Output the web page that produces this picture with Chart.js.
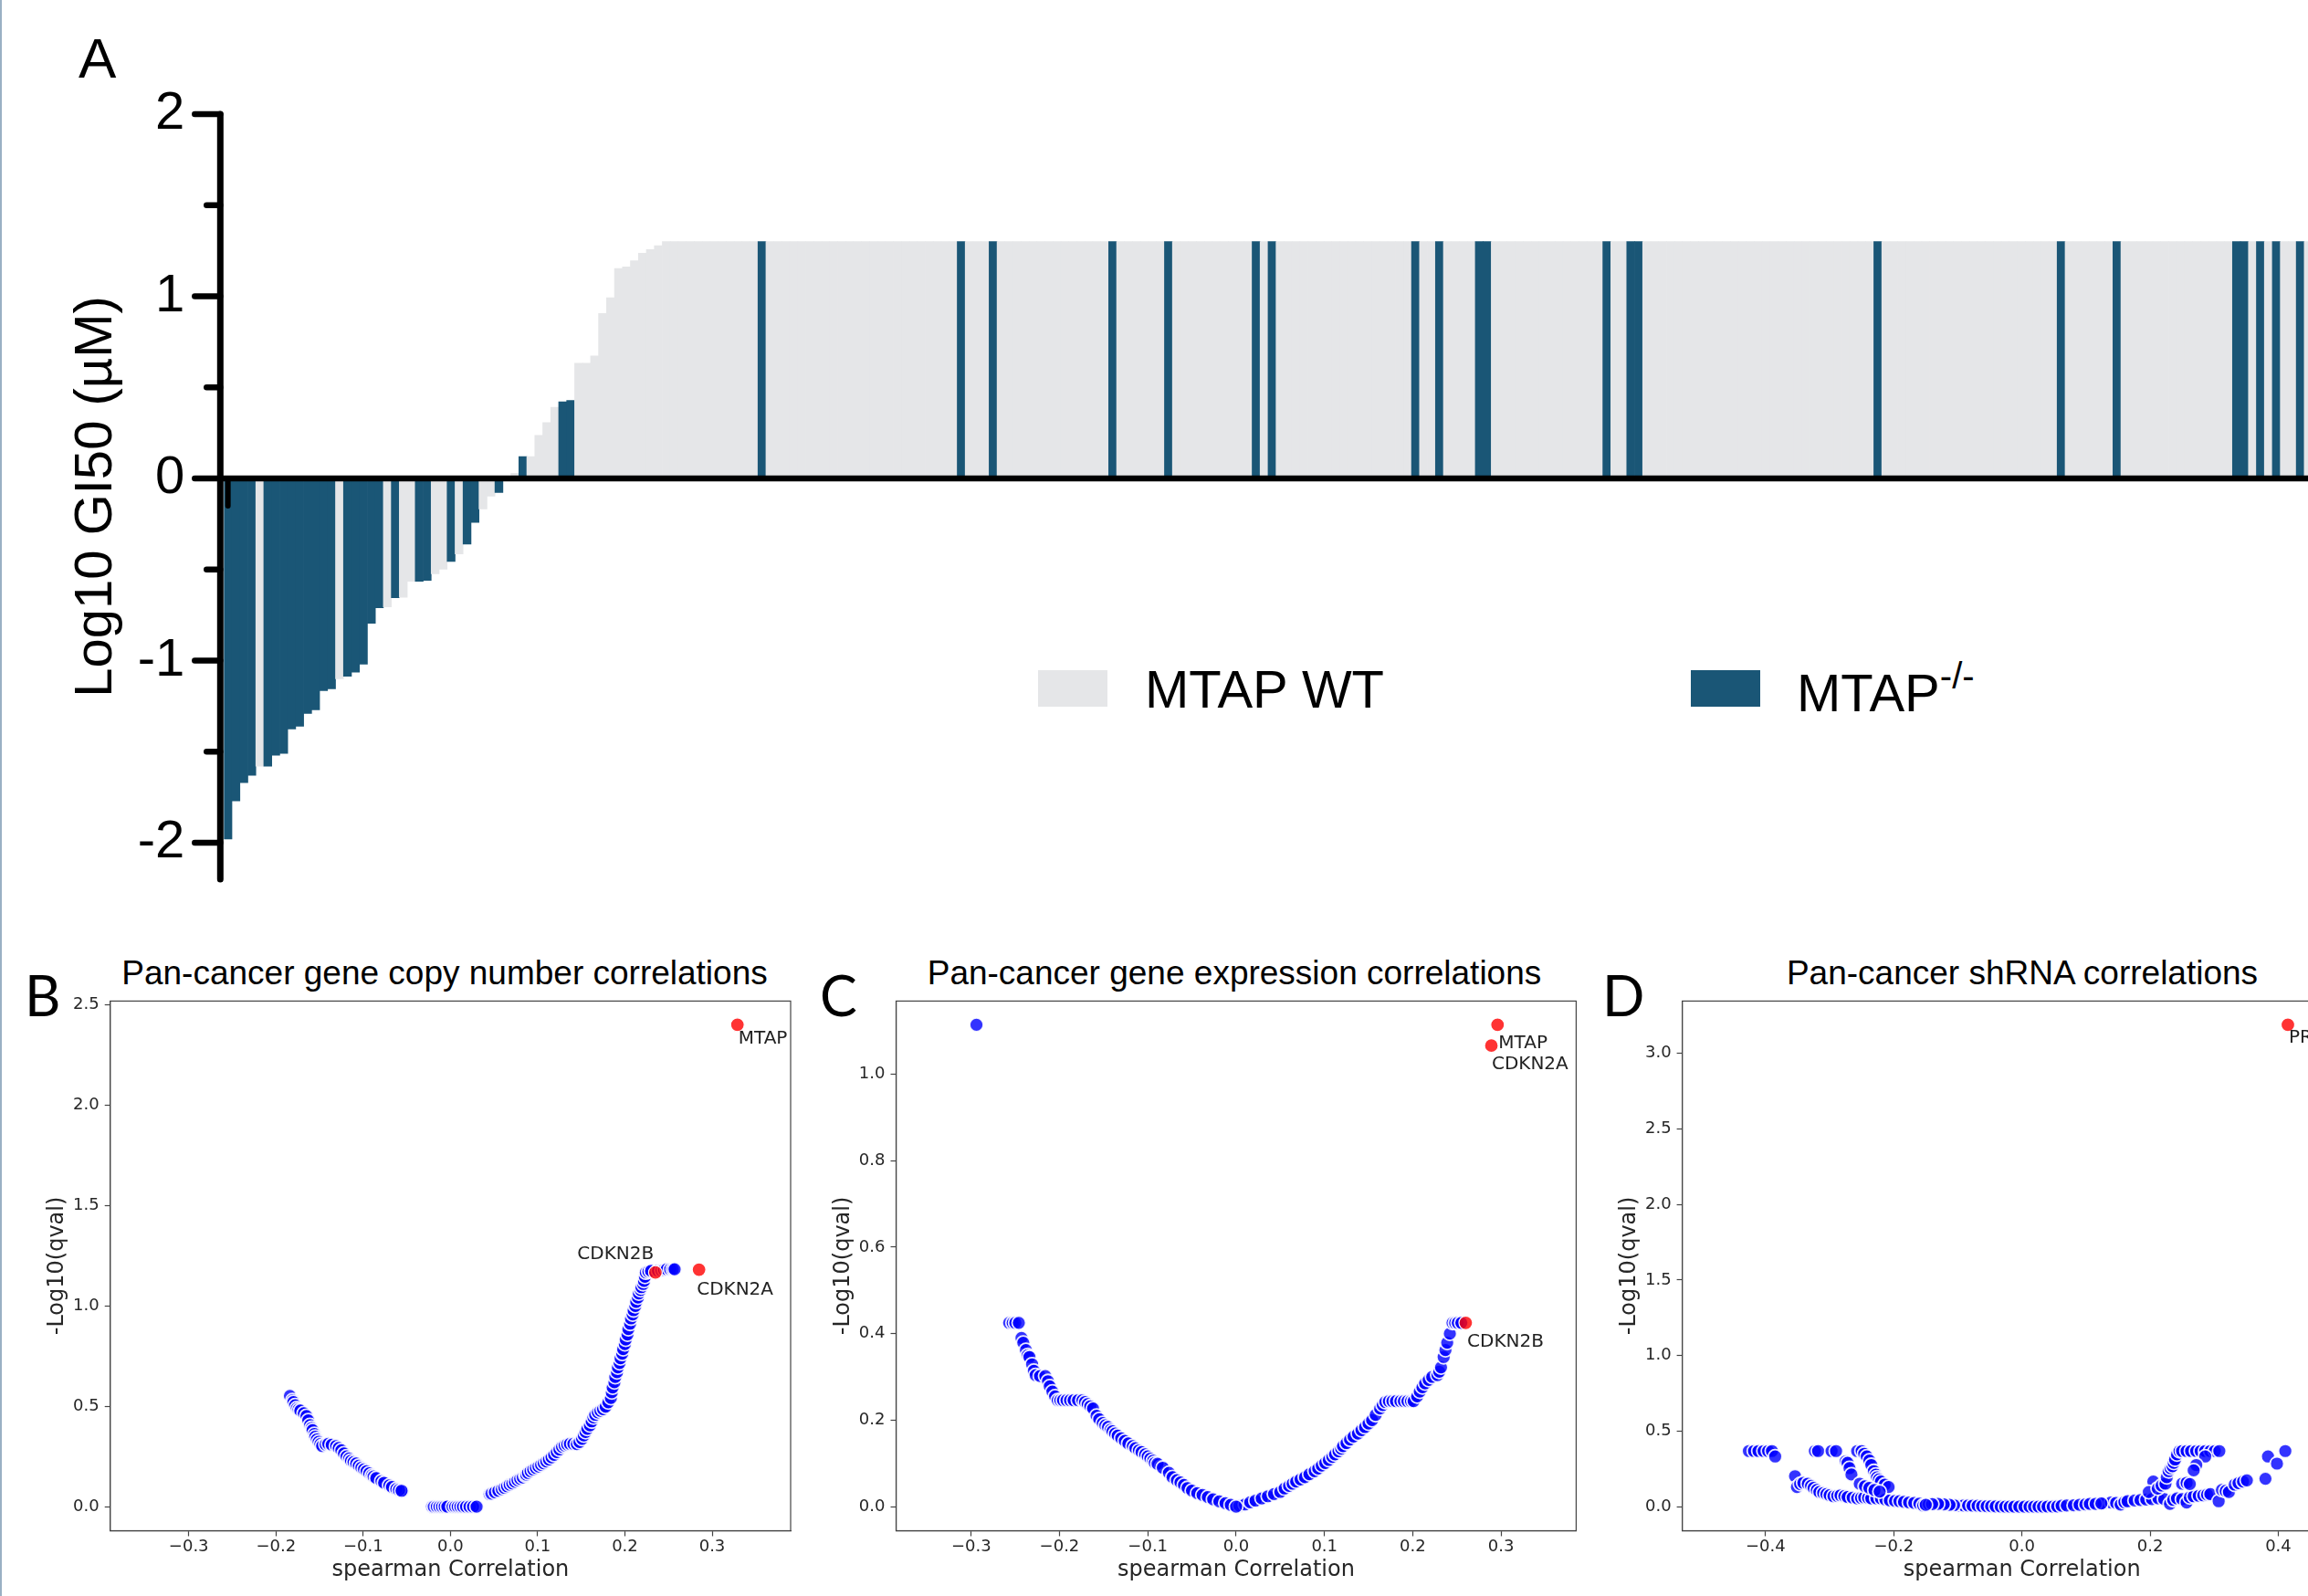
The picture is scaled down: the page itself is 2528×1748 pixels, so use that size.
<!DOCTYPE html>
<html>
<head>
<meta charset="utf-8">
<script src="https://cdn.jsdelivr.net/npm/chart.js"></script>
<style>
  html, body { margin: 0; padding: 0; background: #fff; overflow: hidden; }
  body { width: 2528px; height: 1748px; position: relative; }
  canvas { position: absolute; }
  .txt { position: absolute; white-space: nowrap; line-height: 1; color: #000; }
  .sans { font-family: 'Liberation Sans', Arial, sans-serif; }
  .letter { font-family: 'Lato', sans-serif; font-size: 61px; }
  .ptitle { font-family: 'Liberation Sans', Arial, sans-serif; font-size: 37px; width: 1000px; text-align: center; }
  .swatch { position: absolute; width: 76px; height: 40px; }
  #edge { position: absolute; left: 0; top: 0; width: 2px; height: 1748px; background: #9ab0c4; }
</style>
</head>
<body>
<div id="edge"></div>

<div class="txt sans" style="left:86px; top:33px; font-size:62px;">A</div>

<!-- legend of panel A -->
<div class="swatch" style="left:1137px; top:734px; background:#e5e6e8;"></div>
<div class="txt sans" style="left:1254px; top:726px; font-size:58px;">MTAP WT</div>
<div class="swatch" style="left:1852px; top:734px; background:#1a5676;"></div>
<div class="txt sans" style="left:1968px; top:730px; font-size:58px;">MTAP<span style="font-size:40px; vertical-align:25px; line-height:0;">-/-</span></div>

<canvas id="gi50Chart" width="2540" height="1000" style="left:0; top:0;"></canvas>

<div class="txt letter" style="left:27px; top:1059px;">B</div>
<div class="txt letter" style="left:898px; top:1059px;">C</div>
<div class="txt letter" style="left:1755px; top:1059px;">D</div>

<div class="txt ptitle" style="left:-13px; top:1047px;">Pan-cancer gene copy number correlations</div>
<div class="txt ptitle" style="left:852px; top:1047px;">Pan-cancer gene expression correlations</div>
<div class="txt ptitle" style="left:1715px; top:1047px;">Pan-cancer shRNA correlations</div>

<canvas id="copyChart" width="880" height="718" style="left:0; top:1030px;"></canvas>
<canvas id="exprChart" width="860" height="718" style="left:880px; top:1030px;"></canvas>
<canvas id="shrnaChart" width="880" height="718" style="left:1720px; top:1030px;"></canvas>

<script>
// ---- panel A : log10 GI50 per cell line, sorted ----
const gi50 = [
  -1.98, -1.77, -1.67, -1.63, -1.58, -1.58, -1.52, -1.51, -1.375, -1.36,
  -1.29, -1.27, -1.165, -1.155, -1.10, -1.086, -1.063, -1.02, -0.795, -0.71,
  -0.705, -0.655, -0.652, -0.565, -0.565, -0.56, -0.523, -0.498, -0.456, -0.414,
  -0.361, -0.241, -0.167, -0.097, -0.077, -0.01, 0.028, 0.12, 0.12, 0.237,
  0.307, 0.391, 0.421, 0.428, 0.632, 0.632, 0.672, 0.906, 0.992, 1.153,
  1.161, 1.195, 1.237, 1.257, 1.278,
  1.3, 1.3, 1.3, 1.3, 1.3, 1.3, 1.3, 1.3, 1.3, 1.3, 1.3, 1.3, 1.3, 1.3, 1.3,
  1.3, 1.3, 1.3, 1.3, 1.3, 1.3, 1.3, 1.3, 1.3, 1.3, 1.3, 1.3, 1.3, 1.3, 1.3,
  1.3, 1.3, 1.3, 1.3, 1.3, 1.3, 1.3, 1.3, 1.3, 1.3, 1.3, 1.3, 1.3, 1.3, 1.3,
  1.3, 1.3, 1.3, 1.3, 1.3, 1.3, 1.3, 1.3, 1.3, 1.3, 1.3, 1.3, 1.3, 1.3, 1.3,
  1.3, 1.3, 1.3, 1.3, 1.3, 1.3, 1.3, 1.3, 1.3, 1.3, 1.3, 1.3, 1.3, 1.3, 1.3,
  1.3, 1.3, 1.3, 1.3, 1.3, 1.3, 1.3, 1.3, 1.3, 1.3, 1.3, 1.3, 1.3, 1.3, 1.3,
  1.3, 1.3, 1.3, 1.3, 1.3, 1.3, 1.3, 1.3, 1.3, 1.3, 1.3, 1.3, 1.3, 1.3, 1.3,
  1.3, 1.3, 1.3, 1.3, 1.3, 1.3, 1.3, 1.3, 1.3, 1.3, 1.3, 1.3, 1.3, 1.3, 1.3,
  1.3, 1.3, 1.3, 1.3, 1.3, 1.3, 1.3, 1.3, 1.3, 1.3, 1.3, 1.3, 1.3, 1.3, 1.3,
  1.3, 1.3, 1.3, 1.3, 1.3, 1.3, 1.3, 1.3, 1.3, 1.3, 1.3, 1.3, 1.3, 1.3, 1.3,
  1.3, 1.3, 1.3, 1.3, 1.3, 1.3, 1.3, 1.3, 1.3, 1.3, 1.3, 1.3, 1.3, 1.3, 1.3,
  1.3, 1.3, 1.3, 1.3, 1.3, 1.3, 1.3, 1.3, 1.3, 1.3, 1.3, 1.3, 1.3, 1.3, 1.3,
  1.3, 1.3, 1.3, 1.3, 1.3, 1.3, 1.3, 1.3, 1.3, 1.3, 1.3, 1.3, 1.3, 1.3, 1.3,
  1.3, 1.3, 1.3, 1.3, 1.3, 1.3, 1.3, 1.3, 1.3, 1.3, 1.3, 1.3
];
// positions (0-based) of the MTAP-/- cell lines in the sorted order
const mtapDeleted = [
  0, 1, 2, 3, 5, 6, 7, 8, 9, 10, 11, 12, 13, 15, 16, 17, 18, 19, 21, 24, 25,
  28, 30, 31, 34, 37, 42, 43, 67, 92, 96, 111, 118, 129, 131, 149, 152, 157,
  158, 173, 176, 177, 207, 230, 237, 252, 253, 255, 257, 260
];
const gi50Ticks = [-2, -1.5, -1, -0.5, 0, 0.5, 1, 1.5, 2];
const cellLineIdx = gi50.map((v, i) => i + 1);

const WT_COLOR = '#e5e6e8';
const DEL_COLOR = '#1a5676';

// ---- panels B-D : spearman correlation vs -log10(q) ----
const copyTop = [[0.329, 2.402], [0.285, 1.181], [0.235, 1.167]];
const copyTopGenes = ['MTAP', 'CDKN2A', 'CDKN2B'];
const copyOther = [
  [-0.184, 0.552], [-0.181, 0.530], [-0.180, 0.521], [-0.178, 0.505], [-0.176, 0.490], [-0.174, 0.484],
  [-0.172, 0.479], [-0.168, 0.465], [-0.165, 0.452], [-0.163, 0.430], [-0.161, 0.406], [-0.159, 0.392],
  [-0.158, 0.381], [-0.156, 0.362], [-0.155, 0.348], [-0.153, 0.335], [-0.151, 0.323], [-0.149, 0.312],
  [-0.147, 0.302], [-0.143, 0.310], [-0.140, 0.313], [-0.136, 0.308], [-0.131, 0.302], [-0.128, 0.292],
  [-0.125, 0.281], [-0.122, 0.265], [-0.119, 0.250], [-0.116, 0.240], [-0.114, 0.229], [-0.111, 0.222],
  [-0.108, 0.215], [-0.105, 0.204], [-0.102, 0.194], [-0.099, 0.186], [-0.096, 0.177], [-0.093, 0.166],
  [-0.090, 0.156], [-0.086, 0.145], [-0.083, 0.137], [-0.081, 0.131], [-0.077, 0.122], [-0.074, 0.115],
  [-0.072, 0.110], [-0.069, 0.102], [-0.066, 0.095], [-0.064, 0.090], [-0.061, 0.085], [-0.058, 0.081],
  [-0.055, 0.077], [-0.088, 0.150], [-0.085, 0.142], [-0.079, 0.127], [-0.076, 0.119], [-0.070, 0.106],
  [-0.067, 0.098], [-0.062, 0.088], [-0.059, 0.083], [-0.056, 0.079],
  [-0.021, 0], [-0.017, 0], [-0.014, 0], [-0.011, 0], [-0.008, 0], [-0.005, 0], [-0.002, 0], [0.001, 0],
  [0.004, 0], [0.007, 0], [0.010, 0], [0.013, 0], [0.016, 0], [0.020, 0], [0.024, 0], [0.028, 0],
  [-0.019, 0], [-0.0155, 0], [-0.0125, 0], [-0.0095, 0], [-0.0065, 0], [-0.0035, 0], [0.0025, 0],
  [0.0055, 0], [0.0085, 0], [0.0115, 0], [0.0145, 0], [0.018, 0], [0.022, 0], [0.026, 0], [0.030, 0],
  [0.045, 0.062], [0.049, 0.068], [0.053, 0.075], [0.057, 0.083], [0.060, 0.090], [0.063, 0.098],
  [0.066, 0.106], [0.069, 0.112], [0.072, 0.120], [0.075, 0.128], [0.078, 0.136], [0.081, 0.142],
  [0.084, 0.150], [0.047, 0.065], [0.051, 0.072], [0.055, 0.079], [0.059, 0.087], [0.062, 0.094],
  [0.065, 0.102], [0.068, 0.110], [0.071, 0.116], [0.074, 0.124], [0.077, 0.132], [0.080, 0.139],
  [0.083, 0.146], [0.086, 0.155],
  [0.087, 0.160], [0.089, 0.168], [0.092, 0.177], [0.095, 0.185], [0.098, 0.193],
  [0.101, 0.200], [0.104, 0.208], [0.107, 0.216], [0.110, 0.225], [0.113, 0.235], [0.116, 0.246],
  [0.119, 0.258], [0.122, 0.272], [0.125, 0.285], [0.128, 0.298], [0.131, 0.305], [0.134, 0.310],
  [0.137, 0.313], [0.141, 0.313], [0.145, 0.312], [0.148, 0.322], [0.151, 0.338], [0.153, 0.355],
  [0.155, 0.372], [0.157, 0.388], [0.160, 0.405], [0.162, 0.425], [0.164, 0.445], [0.166, 0.458],
  [0.169, 0.470], [0.172, 0.478], [0.175, 0.486], [0.178, 0.498], [0.181, 0.520], [0.184, 0.542],
  [0.185, 0.570], [0.186, 0.594], [0.188, 0.620], [0.189, 0.646], [0.191, 0.670], [0.192, 0.694],
  [0.194, 0.716], [0.195, 0.740], [0.197, 0.762], [0.198, 0.785], [0.200, 0.810], [0.201, 0.833],
  [0.203, 0.858], [0.204, 0.885], [0.206, 0.912], [0.207, 0.938], [0.209, 0.958], [0.210, 0.979],
  [0.212, 1.000], [0.213, 1.021], [0.215, 1.042], [0.216, 1.063], [0.218, 1.080], [0.219, 1.094],
  [0.221, 1.110], [0.222, 1.125], [0.223, 1.146], [0.224, 1.167], [0.227, 1.172], [0.230, 1.175],
  [0.238, 1.176], [0.242, 1.177], [0.245, 1.180], [0.248, 1.183], [0.252, 1.183], [0.255, 1.183],
  [0.257, 1.183]
];

const exprTop = [[0.296, 1.114], [0.289, 1.066], [0.260, 0.425]];
const exprTopGenes = ['MTAP', 'CDKN2A', 'CDKN2B'];
const exprOther = [
  [-0.294, 1.114],
  [-0.257, 0.425], [-0.253, 0.425], [-0.250, 0.425], [-0.246, 0.425], [-0.243, 0.390], [-0.241, 0.379],
  [-0.238, 0.362], [-0.236, 0.350], [-0.234, 0.346], [-0.231, 0.329], [-0.229, 0.314], [-0.227, 0.304],
  [-0.222, 0.302], [-0.216, 0.302], [-0.213, 0.290], [-0.211, 0.278], [-0.208, 0.266], [-0.205, 0.255],
  [-0.202, 0.246], [-0.199, 0.246], [-0.196, 0.246], [-0.192, 0.246], [-0.188, 0.246], [-0.184, 0.246],
  [-0.179, 0.246], [-0.174, 0.246], [-0.171, 0.242], [-0.168, 0.237], [-0.165, 0.232], [-0.162, 0.227],
  [-0.158, 0.210], [-0.155, 0.202], [-0.151, 0.193], [-0.148, 0.188], [-0.145, 0.184], [-0.142, 0.178],
  [-0.140, 0.174], [-0.137, 0.169], [-0.134, 0.164], [-0.130, 0.158], [-0.126, 0.152], [-0.122, 0.146],
  [-0.117, 0.140], [-0.114, 0.135], [-0.110, 0.130], [-0.107, 0.126], [-0.103, 0.121], [-0.100, 0.116],
  [-0.097, 0.111], [-0.094, 0.106], [-0.092, 0.101], [-0.088, 0.097], [-0.085, 0.092], [-0.081, 0.087],
  [-0.078, 0.082], [-0.074, 0.073], [-0.069, 0.063], [-0.065, 0.058], [-0.061, 0.053], [-0.057, 0.046],
  [-0.052, 0.039], [-0.047, 0.034], [-0.041, 0.029], [-0.035, 0.024], [-0.029, 0.019], [-0.022, 0.014],
  [-0.015, 0.010], [-0.008, 0.005], [-0.003, 0.002],
  [-0.089, 0.099], [-0.083, 0.090], [-0.076, 0.078], [-0.072, 0.068], [-0.067, 0.061], [-0.063, 0.056],
  [-0.059, 0.050], [-0.055, 0.043], [-0.050, 0.037], [-0.044, 0.031], [-0.038, 0.027], [-0.032, 0.022],
  [-0.026, 0.017], [-0.019, 0.012], [-0.012, 0.008], [-0.006, 0.004],
  [0.007, 0.004], [0.013, 0.008], [0.019, 0.012], [0.026, 0.017], [0.032, 0.021], [0.039, 0.026],
  [0.046, 0.031], [0.053, 0.038], [0.058, 0.045], [0.062, 0.051], [0.066, 0.056], [0.071, 0.061],
  [0.076, 0.066], [0.081, 0.072], [0.086, 0.078], [0.091, 0.085],
  [0.004, 0.002], [0.010, 0.005], [0.016, 0.010], [0.022, 0.014], [0.029, 0.019], [0.036, 0.024],
  [0.043, 0.029], [0.050, 0.034], [0.055, 0.042], [0.060, 0.048], [0.064, 0.053], [0.068, 0.058],
  [0.073, 0.063], [0.078, 0.068], [0.083, 0.075], [0.089, 0.082], [0.093, 0.088], [0.097, 0.095],
  [0.101, 0.101], [0.105, 0.108], [0.109, 0.115], [0.112, 0.121], [0.116, 0.128], [0.119, 0.134],
  [0.121, 0.140], [0.125, 0.147], [0.129, 0.155], [0.133, 0.162], [0.138, 0.169], [0.142, 0.177],
  [0.146, 0.184], [0.150, 0.192], [0.154, 0.200], [0.158, 0.212], [0.163, 0.227], [0.166, 0.235],
  [0.169, 0.242], [0.173, 0.244], [0.177, 0.244], [0.181, 0.244], [0.186, 0.244], [0.190, 0.244],
  [0.194, 0.244], [0.198, 0.244], [0.201, 0.244], [0.205, 0.255], [0.208, 0.266], [0.211, 0.276],
  [0.214, 0.285], [0.218, 0.293], [0.222, 0.300], [0.228, 0.304], [0.230, 0.312], [0.232, 0.322],
  [0.235, 0.346], [0.237, 0.362], [0.239, 0.379], [0.242, 0.400], [0.245, 0.425], [0.248, 0.425],
  [0.251, 0.425], [0.255, 0.425], [0, 0]
];

const shrnaTop = [[0.415, 3.188]];
const shrnaTopGenes = ['PRMT5'];
const shrnaOther = [
  [-0.426, 0.368], [-0.418, 0.368], [-0.411, 0.368], [-0.403, 0.368], [-0.396, 0.368], [-0.390, 0.368],
  [-0.385, 0.332], [-0.354, 0.202], [-0.351, 0.130], [-0.346, 0.150], [-0.341, 0.158], [-0.334, 0.152],
  [-0.329, 0.138], [-0.325, 0.124], [-0.320, 0.110], [-0.316, 0.097], [-0.310, 0.090], [-0.305, 0.083],
  [-0.300, 0.076], [-0.294, 0.069], [-0.288, 0.072], [-0.283, 0.075], [-0.277, 0.070], [-0.272, 0.064],
  [-0.264, 0.060], [-0.257, 0.055], [-0.251, 0.058], [-0.246, 0.061], [-0.240, 0.058], [-0.235, 0.055],
  [-0.227, 0.055], [-0.220, 0.055], [-0.213, 0.048], [-0.206, 0.041], [-0.198, 0.038], [-0.191, 0.036],
  [-0.184, 0.032], [-0.176, 0.028], [-0.168, 0.025], [-0.160, 0.020], [-0.154, 0.008], [-0.145, 0.016],
  [-0.136, 0.019], [-0.127, 0.016], [-0.117, 0.014], [-0.110, 0.011], [-0.103, 0.008], [-0.095, 0.008],
  [-0.088, 0.008], [-0.080, 0.007], [-0.073, 0.008], [-0.066, 0.005], [-0.059, 0.003], [-0.052, 0.003],
  [-0.044, 0.003], [-0.037, 0.002], [-0.029, 0], [-0.022, 0], [-0.015, 0], [-0.008, 0], [0, 0],
  [0.008, 0], [0.015, 0], [0.022, 0], [0.029, 0], [0.037, 0], [0.044, 0.002], [0.051, 0], [0.058, 0.004],
  [0.066, 0.008], [0.077, 0.008], [0.086, 0.010], [0.095, 0.014], [0.103, 0.016], [0.110, 0.019],
  [0.120, 0.020], [0.128, 0.022], [0.139, 0.028], [0.147, 0.025], [0.154, 0.014], [0.160, 0.030],
  [0.165, 0.036], [0.176, 0.041], [0.185, 0.044], [0.194, 0.047], [0.203, 0.050], [0.213, 0.055],
  [0.222, 0.050], [0.231, 0.019], [0.236, 0.045], [0.242, 0.055], [0.250, 0.050], [0.257, 0.028],
  [0.262, 0.062], [0.268, 0.069], [0.276, 0.072], [0.283, 0.075], [0.289, 0.080], [0.294, 0.083],
  [0.307, 0.036], [0.312, 0.111], [0.318, 0.104], [0.323, 0.097], [0.332, 0.146], [0.338, 0.156],
  [0.345, 0.166], [0.351, 0.174], [0.380, 0.185], [0.384, 0.332], [0.398, 0.285], [0.411, 0.368],
  [-0.099, 0.008], [-0.091, 0.008], [-0.084, 0.008], [-0.077, 0.007], [-0.069, 0.006], [-0.062, 0.004],
  [-0.055, 0.003], [-0.048, 0.003], [-0.041, 0.002], [-0.033, 0.001], [-0.026, 0], [-0.019, 0],
  [-0.012, 0], [-0.004, 0], [0.004, 0], [0.012, 0], [0.019, 0], [0.026, 0], [0.033, 0], [0.040, 0.001],
  [0.048, 0.001], [0.055, 0.002], [0.062, 0.006], [0.070, 0.008], [0.081, 0.009], [0.090, 0.012],
  [0.099, 0.015], [0.106, 0.018], [0.115, 0.019], [0.124, 0.021], [-0.106, 0.010], [-0.113, 0.012],
  [-0.122, 0.015], [-0.131, 0.018], [-0.140, 0.017], [-0.150, 0.012],
  [-0.323, 0.368], [-0.318, 0.368], [-0.297, 0.368], [-0.290, 0.368], [-0.275, 0.300], [-0.272, 0.290],
  [-0.269, 0.255], [-0.266, 0.213], [-0.257, 0.368], [-0.250, 0.368], [-0.246, 0.350], [-0.242, 0.332],
  [-0.238, 0.305], [-0.235, 0.276], [-0.231, 0.235], [-0.228, 0.212], [-0.226, 0.194], [-0.223, 0.180],
  [-0.220, 0.166], [-0.214, 0.146], [-0.208, 0.130], [-0.253, 0.152], [-0.245, 0.135], [-0.238, 0.124],
  [-0.230, 0.110], [-0.222, 0.100],
  [0.205, 0.166], [0.198, 0.097], [0.212, 0.120], [0.218, 0.140], [0.224, 0.152], [0.226, 0.195],
  [0.229, 0.235], [0.232, 0.255], [0.235, 0.268], [0.237, 0.290], [0.239, 0.312], [0.242, 0.346],
  [0.246, 0.368], [0.250, 0.368], [0.257, 0.368], [0.264, 0.368], [0.272, 0.368], [0.279, 0.368],
  [0.286, 0.368], [0.294, 0.368], [0.301, 0.368], [0.308, 0.368], [0.286, 0.332], [0.272, 0.276],
  [0.268, 0.240], [0.250, 0.152], [0.257, 0.158], [0.262, 0.150]
];

const copyXTicks = [-0.3, -0.2, -0.1, 0, 0.1, 0.2, 0.3];
const copyYTicks = [0, 0.5, 1, 1.5, 2, 2.5];
const exprXTicks = [-0.3, -0.2, -0.1, 0, 0.1, 0.2, 0.3];
const exprYTicks = [0, 0.2, 0.4, 0.6, 0.8, 1.0];
const shrnaXTicks = [-0.4, -0.2, 0, 0.2, 0.4];
const shrnaYTicks = [0, 0.5, 1, 1.5, 2, 2.5, 3];

Chart.defaults.font.family = "'DejaVu Sans', sans-serif";

// keep the plot area where it is: no extra room for half tick labels
function noLabelPadding(s) {
  s.paddingTop = 0;
  s.paddingBottom = 0;
  s.paddingLeft = 0;
  s.paddingRight = 0;
}

// axis line, tick marks and zero line of panel A (GraphPad style)
const gi50Axes = {
  id: 'gi50Axes',
  afterDatasetsDraw(chart) {
    const { ctx, chartArea, scales: { x, y } } = chart;
    const y0 = y.getPixelForValue(0);
    const axX = chartArea.left - 4;
    ctx.save();
    ctx.strokeStyle = '#000';
    ctx.lineCap = 'round';
    ctx.lineWidth = 6.5;
    ctx.beginPath();
    ctx.moveTo(axX, y0);
    ctx.lineTo(chartArea.right + 10, y0);
    ctx.stroke();
    ctx.lineWidth = 7;
    ctx.beginPath();
    ctx.moveTo(axX, y.getPixelForValue(2));
    ctx.lineTo(axX, y.getPixelForValue(-2.2));
    ctx.stroke();
    ctx.lineWidth = 6.5;
    y.ticks.forEach(t => {
      const py = y.getPixelForValue(t.value);
      const len = Number.isInteger(t.value) ? 28 : 15;
      ctx.beginPath();
      ctx.moveTo(axX - len, py);
      ctx.lineTo(axX, py);
      ctx.stroke();
    });
    const px = x.getPixelForValue(0);
    ctx.lineWidth = 6;
    ctx.beginPath();
    ctx.moveTo(px, y0);
    ctx.lineTo(px, y0 + 30);
    ctx.stroke();
    ctx.restore();
  }
};

new Chart(document.getElementById('gi50Chart'), {
  type: 'bar',
  data: {
    labels: cellLineIdx,
    datasets: [{
      data: gi50,
      backgroundColor: gi50.map((v, i) => mtapDeleted.includes(i) ? DEL_COLOR : WT_COLOR),
      borderWidth: 0,
      barPercentage: 1,
      categoryPercentage: 1
    }]
  },
  options: {
    responsive: false,
    animation: false,
    events: [],
    layout: { padding: { left: 0, top: 125, right: 7.4, bottom: 37.1 } },
    plugins: { legend: { display: false }, tooltip: { enabled: false } },
    scales: {
      x: { display: false },
      y: {
        min: -2.2,
        max: 2,
        afterBuildTicks: s => { s.ticks = gi50Ticks.map(v => ({ value: v })); },
        afterFit: s => { s.width = 245.3; noLabelPadding(s); },
        grid: { display: false, drawTicks: false },
        border: { display: false },
        ticks: {
          padding: 43,
          color: '#000',
          font: { family: "'Liberation Sans', Arial, sans-serif", size: 58 },
          callback: v => Number.isInteger(v) ? String(v) : ''
        },
        title: {
          display: true,
          text: 'Log10 GI50 (µM)',
          color: '#000',
          padding: { top: 71, bottom: 0 },
          font: { family: "'Liberation Sans', Arial, sans-serif", size: 58 }
        }
      }
    }
  },
  plugins: [gi50Axes]
});

// frame + gene annotations for the scatter panels
const scatterDecor = {
  id: 'decor',
  afterDraw(chart, args, opts) {
    const { ctx, chartArea: a } = chart;
    ctx.save();
    ctx.strokeStyle = '#444';
    ctx.lineWidth = 1.2;
    ctx.strokeRect(a.left, a.top, a.right - a.left, a.bottom - a.top);
    const meta = chart.getDatasetMeta(0);
    ctx.fillStyle = '#222';
    ctx.font = "20px 'DejaVu Sans', sans-serif";
    ctx.textBaseline = 'alphabetic';
    (opts.notes || []).forEach((n, i) => {
      const p = meta.data[i];
      ctx.textAlign = n.align;
      ctx.fillText(opts.names[i], p.x + n.dx, p.y + n.dy);
    });
    ctx.restore();
  }
};

function tickText(v) {
  const r = Math.round(v * 10) / 10;
  return (r < 0 ? '\u2212' : '') + Math.abs(r).toFixed(1);
}

function makeScatter(id, top, topNames, other, cfg) {
  const tickFont = { size: 18 };
  new Chart(document.getElementById(id), {
    type: 'scatter',
    data: {
      datasets: [
        { data: top.map(p => ({ x: p[0], y: p[1] })), order: 0,
          backgroundColor: 'rgba(255,0,0,0.8)', borderColor: '#fff',
          pointRadius: 7.5, pointBorderWidth: 1.2 },
        { data: other.map(p => ({ x: p[0], y: p[1] })), order: 1,
          backgroundColor: 'rgba(0,0,255,0.8)', borderColor: 'rgba(255,255,255,0.9)',
          pointRadius: 7.5, pointBorderWidth: 1.8 }
      ]
    },
    options: {
      responsive: false,
      animation: false,
      events: [],
      layout: { padding: { left: 0, top: 66.4, right: cfg.padRight, bottom: 0 } },
      plugins: {
        legend: { display: false },
        tooltip: { enabled: false },
        decor: { names: topNames, notes: cfg.notes }
      },
      scales: {
        x: {
          type: 'linear',
          min: cfg.xMin, max: cfg.xMax,
          afterBuildTicks: s => { s.ticks = cfg.xTicks.map(v => ({ value: v })); },
          afterFit: s => { s.height = 71.5; noLabelPadding(s); },
          grid: { drawOnChartArea: false, tickLength: 6, tickWidth: 1.2, tickColor: '#444' },
          border: { color: '#444', width: 1.2 },
          ticks: { font: tickFont, color: '#262626', padding: 1, maxRotation: 0, autoSkip: false, callback: tickText },
          title: { display: true, text: 'spearman Correlation', color: '#262626',
                   font: { size: 24 }, padding: { top: 0, bottom: 14 } }
        },
        y: {
          type: 'linear',
          min: cfg.yMin, max: cfg.yMax,
          afterBuildTicks: s => { s.ticks = cfg.yTicks.map(v => ({ value: v })); },
          afterFit: s => { s.width = cfg.axisWidth; noLabelPadding(s); },
          grid: { drawOnChartArea: false, tickLength: 6, tickWidth: 1.2, tickColor: '#444' },
          border: { color: '#444', width: 1.2 },
          ticks: { font: tickFont, color: '#262626', padding: 6, autoSkip: false, callback: tickText },
          title: { display: true, text: '-Log10(qval)', color: '#262626',
                   font: { size: 24 }, padding: { top: cfg.yTitlePad, bottom: 0 } }
        }
      }
    },
    plugins: [scatterDecor]
  });
}

makeScatter('copyChart', copyTop, copyTopGenes, copyOther, {
  xMin: -0.39, xMax: 0.39, yMin: -0.12, yMax: 2.52,
  xTicks: copyXTicks, yTicks: copyYTicks,
  axisWidth: 120.7, padRight: 14, yTitlePad: 48.6,
  notes: [
    { dx: 1, dy: 21, align: 'left' },
    { dx: -2.5, dy: 27, align: 'left' },
    { dx: -1.7, dy: -14.6, align: 'right' }
  ]
});

makeScatter('exprChart', exprTop, exprTopGenes, exprOther, {
  xMin: -0.385, xMax: 0.385, yMin: -0.0557, yMax: 1.169,
  xTicks: exprXTicks, yTicks: exprYTicks,
  axisWidth: 101.5, padRight: 13.6, yTitlePad: 29.6,
  notes: [
    { dx: 1, dy: 25.6, align: 'left' },
    { dx: 0.4, dy: 25.6, align: 'left' },
    { dx: 1.6, dy: 26, align: 'left' }
  ]
});

makeScatter('shrnaChart', shrnaTop, shrnaTopGenes, shrnaOther, {
  xMin: -0.53, xMax: 0.53, yMin: -0.159, yMax: 3.345,
  xTicks: shrnaXTicks, yTicks: shrnaYTicks,
  axisWidth: 122.6, padRight: 13.3, yTitlePad: 50,
  notes: [
    { dx: 1, dy: 20, align: 'left' }
  ]
});
</script>
</body>
</html>
